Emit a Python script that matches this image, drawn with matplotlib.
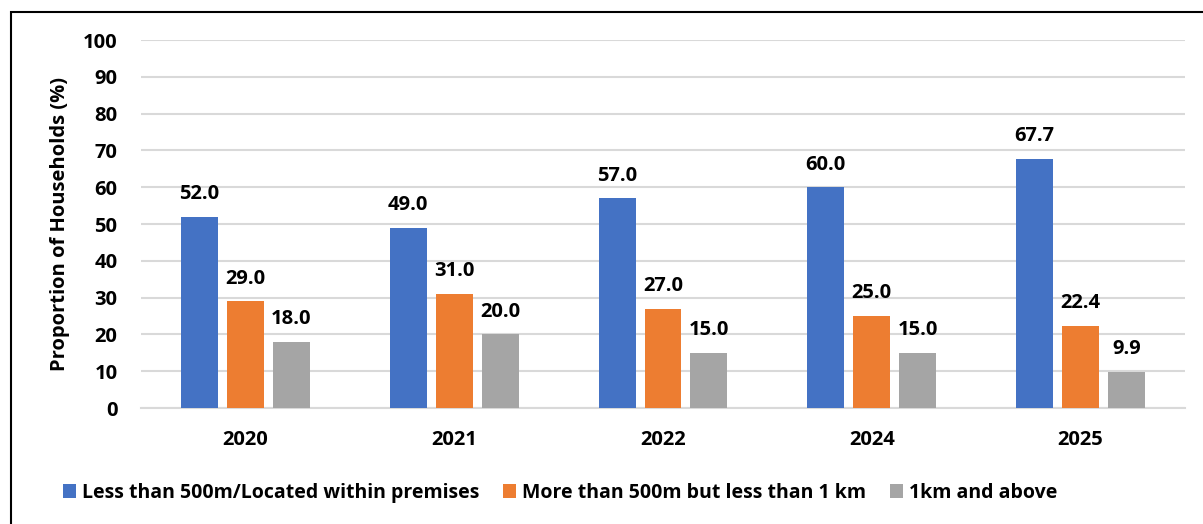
import matplotlib.pyplot as plt
import numpy as np
from matplotlib.patches import Rectangle

plt.rcParams['font.family'] = ['Open Sans', 'DejaVu Sans']
plt.rcParams['font.weight'] = 'bold'

years = ['2020', '2021', '2022', '2024', '2025']
series_names = ['Less than 500m/Located within premises',
                'More than 500m but less than 1 km',
                '1km and above']
less_500m = [52.0, 49.0, 57.0, 60.0, 67.7]
between_500m_1km = [29.0, 31.0, 27.0, 25.0, 22.4]
over_1km = [18.0, 20.0, 15.0, 15.0, 9.9]
colors = ['#4472C4', '#ED7D31', '#A5A5A5']

fig = plt.figure(figsize=(12.03, 5.24), dpi=100)
ax = fig.add_axes([141/1203, 1 - 408/524, 1044/1203, 368/524])

x = np.arange(len(years))
width = 0.177
step = 0.22
for i, (vals, name, col) in enumerate(zip([less_500m, between_500m_1km, over_1km],
                                           series_names, colors)):
    bars = ax.bar(x + (i - 1) * step, vals, width, color=col, label=name, zorder=3)
    for b, v in zip(bars, vals):
        ax.annotate(f'{v:.1f}', (b.get_x() + b.get_width() / 2, v),
                    xytext=(0, 9), textcoords='offset points',
                    ha='center', va='bottom', fontsize=14.5, fontweight='bold')

ax.set_xlim(-0.5, len(years) - 0.5)
ax.set_ylim(0, 100)
ax.set_yticks(range(0, 101, 10))
ax.set_xticks(x)
ax.set_xticklabels(years)
ax.tick_params(axis='both', length=0, labelsize=14.5)
ax.tick_params(axis='y', pad=17)
ax.tick_params(axis='x', pad=16)
for lbl in ax.get_xticklabels() + ax.get_yticklabels():
    lbl.set_fontweight('bold')

ax.grid(axis='y', color='#d9d9d9', linewidth=1.5, zorder=0)
for s in ['top', 'right', 'left']:
    ax.spines[s].set_visible(False)
ax.spines['bottom'].set_color('#d9d9d9')
ax.spines['bottom'].set_linewidth(1.5)

ax.set_ylabel('Proportion of Households (%)', fontsize=14.5, fontweight='bold', labelpad=9)

fig.legend(loc='center', bbox_to_anchor=(560/1203, 1 - 493/524), ncol=3,
           frameon=False, fontsize=14, handlelength=0.7, handleheight=0.7,
           handletextpad=0.3, columnspacing=1.2)

fig.patches.append(Rectangle((11/1203, -0.05), 1.1, 1 - 12/524 + 0.05,
                             transform=fig.transFigure, fill=False,
                             edgecolor='black', linewidth=1.5, clip_on=False))

fig.savefig('out.png', dpi=100)
